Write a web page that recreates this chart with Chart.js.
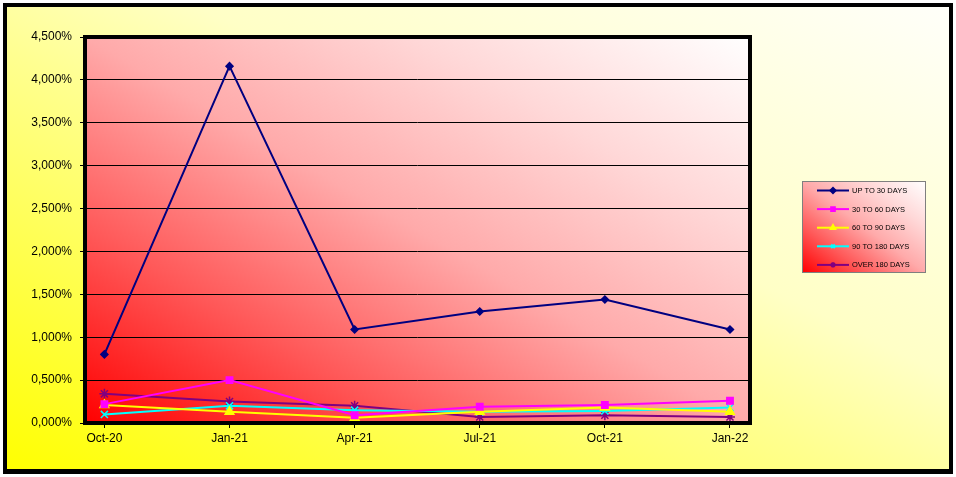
<!DOCTYPE html>
<html>
<head>
<meta charset="utf-8">
<script src="https://cdn.jsdelivr.net/npm/chart.js@4/dist/chart.umd.min.js"></script>
<style>
  html, body { margin: 0; padding: 0; background: #ffffff; }
  #wrap { width: 956px; height: 477px; }
</style>
</head>
<body>
<div id="wrap"><canvas id="agingChart" width="956" height="477"></canvas></div>
<script>
/* aging buckets, % of portfolio */

var quarters = ['Oct-20', 'Jan-21', 'Apr-21', 'Jul-21', 'Oct-21', 'Jan-22'];
var yTicks = [0, 0.5, 1, 1.5, 2, 2.5, 3, 3.5, 4, 4.5];

var upTo30 = [0.80, 4.16, 1.09, 1.30, 1.44, 1.09];
var d30to60 = [0.22, 0.50, 0.09, 0.19, 0.21, 0.26];
var d60to90 = [0.21, 0.13, 0.06, 0.13, 0.18, 0.13];
var d90to180 = [0.10, 0.20, 0.15, 0.13, 0.14, 0.18];
var over180 = [0.34, 0.25, 0.20, 0.07, 0.09, 0.07];

var seriesLabels = ['UP TO 30 DAYS', '30 TO 60 DAYS', '60 TO 90 DAYS', '90 TO 180 DAYS', 'OVER 180 DAYS'];

var FONT = "'Liberation Sans', Arial, sans-serif";

var RED_STOPS = [[0, '#ff0000'], [0.25, '#ff5858'], [0.5, '#ffaaaa'], [0.75, '#ffd8d8'], [1, '#ffffff']];
var YELLOW_STOPS = [[0, '#ffff00'], [0.25, '#ffff50'], [0.45, '#ffff90'], [0.6, '#ffffc6'], [1, '#fffffa']];

function fmtPct(v) {
  return v.toFixed(3).replace('.', ',') + '%';
}

function toPoints(arr) {
  return arr.map(function (v, i) { return { x: i, y: v }; });
}

// diagonal gradient in box-normalised space (bottom-left -> top-right)
function fillDiag(ctx, x, y, w, h, stops) {
  ctx.save();
  ctx.translate(x, y);
  ctx.scale(w, h);
  var g = ctx.createLinearGradient(0, 1, 1, 0);
  stops.forEach(function (s) { g.addColorStop(s[0], s[1]); });
  ctx.fillStyle = g;
  ctx.fillRect(0, 0, 1, 1);
  ctx.restore();
}

function series(label, data, color, style, radius) {
  return {
    label: label,
    data: toPoints(data),
    borderColor: color,
    backgroundColor: color,
    pointBackgroundColor: color,
    pointBorderColor: color,
    pointStyle: style,
    pointRadius: radius,
    pointBorderWidth: 1.5,
    borderWidth: 2,
    tension: 0,
    fill: false
  };
}

// outer frame + plot area fills
var backdrop = {
  id: 'backdrop',
  beforeDraw: function (chart) {
    var ctx = chart.ctx;
    var w = chart.width, h = chart.height;
    var ca = chart.chartArea;
    fillDiag(ctx, 5, 5, w - 10, h - 11, YELLOW_STOPS);
    fillDiag(ctx, ca.left, ca.top, ca.right - ca.left, ca.bottom - ca.top, RED_STOPS);
  },
  afterDraw: function (chart) {
    var ctx = chart.ctx;
    var w = chart.width, h = chart.height;
    var ca = chart.chartArea;
    ctx.save();
    ctx.strokeStyle = '#000000';
    ctx.lineWidth = 4;
    ctx.strokeRect(ca.left, ca.top, ca.right - ca.left, ca.bottom - ca.top);
    ctx.strokeRect(5, 5, w - 10, h - 11);
    // heavier bottom edge like the sheet's shadow
    ctx.fillStyle = '#000000';
    ctx.fillRect(3, h - 6, w - 6, 3);
    ctx.restore();
  }
};

// legend box drawn at the right like the original sheet
var sideLegend = {
  id: 'sideLegend',
  afterDraw: function (chart) {
    var ctx = chart.ctx;
    var bx = 802, by = 181, bw = 123, bh = 91;
    fillDiag(ctx, bx, by, bw, bh, RED_STOPS);
    ctx.save();
    ctx.strokeStyle = '#7f7f7f';
    ctx.lineWidth = 1;
    ctx.strokeRect(bx + 0.5, by + 0.5, bw, bh);

    ctx.font = '7.5px ' + FONT;
    ctx.textBaseline = 'middle';
    chart.data.datasets.forEach(function (ds, i) {
      var y = by + 9.5 + i * 18.6;
      ctx.strokeStyle = ds.borderColor;
      ctx.lineWidth = 2;
      ctx.beginPath();
      ctx.moveTo(bx + 15, y);
      ctx.lineTo(bx + 47, y);
      ctx.stroke();
      ctx.fillStyle = ds.borderColor;
      Chart.helpers.drawPoint(ctx, {
        pointStyle: ds.pointStyle, radius: 2.6, rotation: 0, borderWidth: 1
      }, bx + 31, y);
      ctx.fillStyle = '#000000';
      ctx.fillText(ds.label, bx + 50, y + 0.5);
    });
    ctx.restore();
  }
};

var chart = new Chart(document.getElementById('agingChart'), {
  type: 'line',
  data: {
    datasets: [
      series(seriesLabels[0], upTo30, '#000080', 'rectRot', 3.5),
      series(seriesLabels[1], d30to60, '#ff00ff', 'rect', 4.5),
      series(seriesLabels[2], d60to90, '#ffff00', 'triangle', 5),
      series(seriesLabels[3], d90to180, '#00ffff', 'crossRot', 5),
      series(seriesLabels[4], over180, '#800080', 'star', 5)
    ]
  },
  options: {
    responsive: false,
    animation: false,
    layout: { padding: { left: 10, right: 206, top: 37, bottom: 10 } },
    plugins: {
      legend: { display: false },
      tooltip: { enabled: false }
    },
    scales: {
      x: {
        type: 'linear',
        min: -0.155,
        max: 5.16,
        afterFit: function (s) { s.height = 44; },
        afterBuildTicks: function (s) {
          s.ticks = quarters.map(function (q, i) { return { value: i }; });
        },
        border: { display: false },
        grid: { drawOnChartArea: false, color: '#000000', tickLength: 5, tickWidth: 1 },
        ticks: {
          color: '#000000',
          padding: 3,
          maxRotation: 0,
          font: { family: FONT, size: 12 },
          callback: function (v) { return quarters[v] || ''; }
        }
      },
      y: {
        min: 0,
        max: 4.5,
        afterFit: function (s) { s.width = 75; },
        afterBuildTicks: function (s) {
          s.ticks = yTicks.map(function (v) { return { value: v }; });
        },
        border: { display: false },
        grid: { color: '#000000', lineWidth: 1, tickLength: 5 },
        ticks: {
          color: '#000000',
          padding: 8,
          font: { family: FONT, size: 12 },
          callback: function (v) { return fmtPct(v); }
        }
      }
    }
  },
  plugins: [backdrop, sideLegend]
});
</script>
</body>
</html>
